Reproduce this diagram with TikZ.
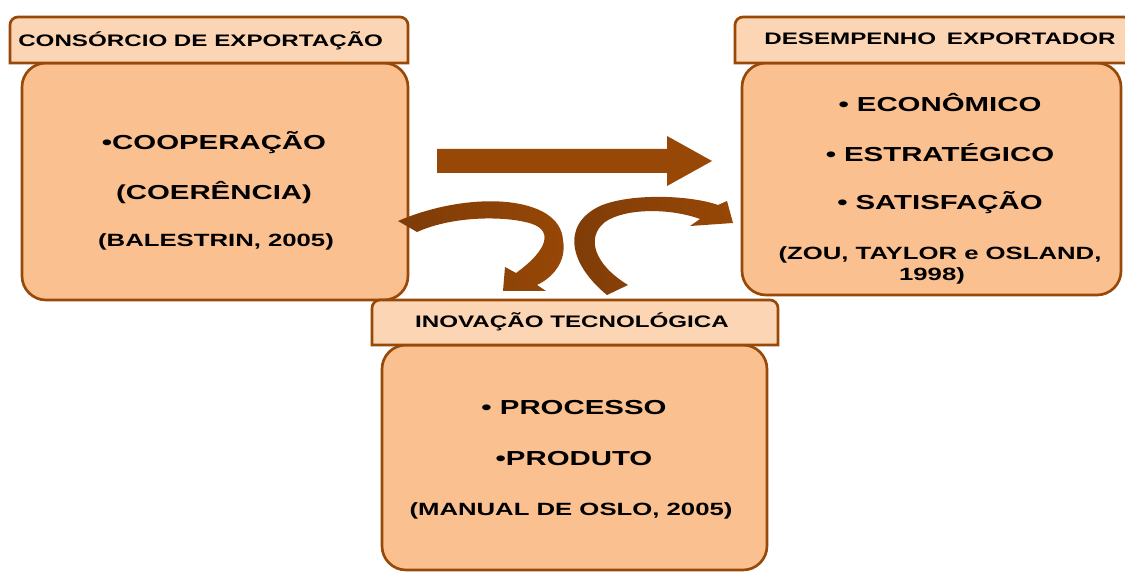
\documentclass[tikz,border=0pt]{standalone}
\usepackage{fontspec}
\newfontfamily\af[FakeStretch=1.45]{Liberation Sans}
\definecolor{brd}{HTML}{984807}
\definecolor{boxf}{HTML}{FAC090}
\definecolor{tabf}{HTML}{FCD5B5}
\definecolor{arr}{HTML}{974706}
\definecolor{arrdark}{HTML}{7E3C08}
\tikzset{
  bigbox/.style={fill=boxf, draw=brd, line width=2pt, rounded corners=18pt},
  tabbox/.style={fill=tabf, draw=brd, line width=2pt},
  arrowshape/.style={fill=arr},
  curvedarrow/.style={left color=arrdark, right color=arr},
  every node/.style={inner sep=0pt, text=black, font=\af\bfseries},
  tabtxt/.style={anchor=base, font=\af\bfseries\fontsize{12.5}{15}\selectfont},
  maintxt/.style={anchor=base, font=\af\bfseries\fontsize{15.2}{18}\selectfont},
  citetxt/.style={anchor=base, font=\af\bfseries\fontsize{13.3}{16}\selectfont}
}
\begin{document}
\begin{tikzpicture}[x=0.75pt,y=0.75pt]
\useasboundingbox (0,0) rectangle (1125,572);
% big boxes
\path[bigbox] (22,272) rectangle (408,509);
\path[bigbox] (742,277) rectangle (1121,509);
\path[bigbox] (382,2) rectangle (767,227);
% tabs
\path[tabbox] (10,509) -- (10,547) arc[start angle=180,end angle=90,radius=6pt] -- (400,555) arc[start angle=90,end angle=0,radius=6pt] -- (408,509) -- cycle;
\path[tabbox] (735,509) -- (735,547) arc[start angle=180,end angle=90,radius=6pt] -- (1124,555) arc[start angle=90,end angle=0,radius=6pt] -- (1132,509) -- cycle;
\path[tabbox] (372,227) -- (372,264) arc[start angle=180,end angle=90,radius=6pt] -- (770,272) arc[start angle=90,end angle=0,radius=6pt] -- (778,227) -- cycle;
% straight arrow
\fill[arrowshape] (437,399) -- (667,399) -- (667,386) -- (712,411) -- (667,436) -- (667,423) -- (437,423) -- cycle;
% curved arrow 1 (consortium -> innovation)
\shade[curvedarrow] (398,351) .. controls (470,382) and (560,377) .. (563,332)
  .. controls (567,310) and (552,294) .. (537,287)
  -- (546,281) -- (503,281) -- (505,305) -- (516,299)
  .. controls (548,322) and (556,344) .. (525,350)
  .. controls (505,355) and (455,357) .. (417,340) -- cycle;
% curved arrow 2 (innovation -> performance)
\shade[curvedarrow] (607,277) .. controls (570,307) and (560,347) .. (600,366)
  .. controls (630,379) and (690,377) .. (718,367)
  -- (727,371) -- (733,349) -- (690,346) -- (700,353)
  .. controls (670,364) and (625,364) .. (605,350)
  .. controls (585,334) and (595,307) .. (628,287) -- cycle;
% texts
\node[tabtxt, anchor=base west] (tabL) at (18,525) {CONSÓRCIO DE EXPORTAÇÃO};
\node[tabtxt] (tabR) at (940,527) {DESEMPENHO\hspace{8pt}EXPORTADOR};
\node[tabtxt] (tabB) at (572,244) {INOVAÇÃO TECNOLÓGICA};
\node[maintxt] (coop) at (214,422) {•COOPERAÇÃO};
\node[maintxt] (coer) at (214,372) {(COERÊNCIA)};
\node[citetxt] (bal) at (216,325) {(BALESTRIN, 2005)};
\node[maintxt] (eco) at (940,460) {•\hspace{6pt}ECONÔMICO};
\node[maintxt] (est) at (940,410) {•\hspace{6pt}ESTRATÉGICO};
\node[maintxt] (sat) at (940,362) {•\hspace{6pt}SATISFAÇÃO};
\node[citetxt] (zoua) at (940,312) {(ZOU, TAYLOR e OSLAND,};
\node[citetxt] (zoub) at (932,291) {1998)};
\node[maintxt] (proc) at (574,157) {• PROCESSO};
\node[maintxt] (prod) at (574,107) {•PRODUTO};
\node[citetxt] (man) at (571,57) {(MANUAL DE OSLO, 2005)};
\end{tikzpicture}
\end{document}
